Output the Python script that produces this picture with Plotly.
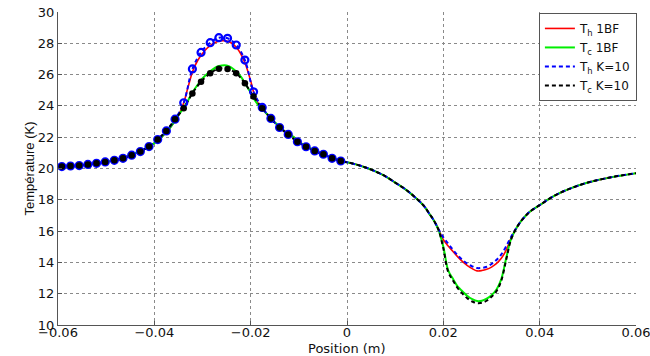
import plotly.graph_objects as go

# ---- Sample positions (m) ----
x_1bf = [-0.06, -0.055, -0.05, -0.045, -0.040, -0.037, -0.035, -0.034, -0.033, -0.032,
         -0.031, -0.030, -0.029, -0.028, -0.027, -0.026, -0.025, -0.024, -0.023, -0.022,
         -0.021, -0.020, -0.019, -0.018, -0.017, -0.015, -0.013, -0.011, -0.009, -0.007,
         -0.005, -0.003, -0.001, 0.0, 0.002, 0.004, 0.006, 0.008, 0.010, 0.012,
         0.014, 0.016, 0.017, 0.018, 0.019, 0.020, 0.021, 0.022, 0.023, 0.024,
         0.025, 0.026, 0.027, 0.028, 0.029, 0.030, 0.031, 0.032, 0.033, 0.034,
         0.035, 0.036, 0.037, 0.038, 0.040, 0.043, 0.046, 0.050, 0.055, 0.060]

th_1bf = [20.10, 20.20, 20.41, 20.84, 21.62, 22.50, 23.40, 24.10, 25.20, 26.25,
          26.90, 27.35, 27.70, 27.95, 28.10, 28.17, 28.15, 28.02, 27.75, 27.30,
          26.60, 25.60, 24.50, 23.95, 23.60, 22.95, 22.40, 22.00, 21.50, 21.20,
          20.90, 20.68, 20.45, 20.40, 20.25, 20.05, 19.80, 19.50, 19.10, 18.70,
          18.20, 17.60, 17.15, 16.70, 16.12, 15.45, 15.05, 14.70, 14.35, 14.05,
          13.80, 13.60, 13.46, 13.48, 13.56, 13.70, 13.92, 14.25, 14.75, 15.50,
          16.10, 16.58, 16.95, 17.25, 17.66, 18.25, 18.68, 19.10, 19.45, 19.70]

tc_1bf = [20.10, 20.20, 20.41, 20.84, 21.62, 22.50, 23.40, 23.85, 24.35, 24.90,
          25.35, 25.75, 26.05, 26.30, 26.50, 26.58, 26.58, 26.45, 26.20, 25.85,
          25.35, 24.85, 24.30, 23.90, 23.60, 22.95, 22.40, 22.00, 21.50, 21.20,
          20.90, 20.68, 20.45, 20.40, 20.25, 20.05, 19.80, 19.50, 19.10, 18.70,
          18.20, 17.60, 17.15, 16.70, 16.08, 15.00, 13.50, 12.95, 12.45, 12.15,
          11.85, 11.65, 11.53, 11.55, 11.68, 11.90, 12.25, 12.90, 14.20, 15.45,
          16.10, 16.58, 16.95, 17.25, 17.66, 18.25, 18.68, 19.10, 19.45, 19.70]

# K=10 solution: node positions on the heated half, then the cooled half
x_k10 = [-0.0592, -0.0574, -0.0556, -0.0538, -0.0520, -0.0502, -0.0483, -0.0465,
         -0.0447, -0.0429, -0.0411, -0.0393, -0.0375, -0.0357, -0.0339, -0.0321,
         -0.0303, -0.0284, -0.0266, -0.0248, -0.0230, -0.0212, -0.0194, -0.0176,
         -0.0158, -0.0140, -0.0122, -0.0103, -0.0085, -0.0067, -0.0049, -0.0031,
         -0.0013,
         0.0, 0.002, 0.004, 0.006, 0.008, 0.010, 0.012, 0.014, 0.016, 0.017, 0.018,
         0.019, 0.020, 0.021, 0.022, 0.023, 0.024, 0.025, 0.026, 0.027, 0.028,
         0.029, 0.030, 0.031, 0.032, 0.033, 0.034, 0.035, 0.036, 0.037, 0.038, 0.040,
         0.043, 0.046, 0.050, 0.055, 0.060]

th_k10 = [20.12, 20.16, 20.19, 20.26, 20.33, 20.42, 20.52, 20.65,
          20.85, 21.08, 21.40, 21.85, 22.40, 23.15, 24.20, 26.36,
          27.42, 28.04, 28.36, 28.32, 27.89, 26.93, 24.90, 23.90,
          23.20, 22.62, 22.18, 21.71, 21.39, 21.12, 20.91, 20.65,
          20.48,
          20.40, 20.25, 20.05, 19.80, 19.50, 19.10, 18.70, 18.20, 17.60, 17.15, 16.70,
          16.12, 15.60, 15.20, 14.80, 14.45, 14.15, 13.92, 13.75, 13.64, 13.65,
          13.72, 13.90, 14.15, 14.50, 15.00, 15.60, 16.12, 16.58, 16.95, 17.25, 17.66,
          18.25, 18.68, 19.10, 19.45, 19.70]

tc_k10 = [20.12, 20.16, 20.19, 20.26, 20.33, 20.42, 20.52, 20.65,
          20.85, 21.08, 21.40, 21.85, 22.40, 23.14, 23.85, 24.80,
          25.55, 26.08, 26.38, 26.36, 26.08, 25.44, 24.60, 23.85,
          23.20, 22.62, 22.18, 21.71, 21.39, 21.12, 20.91, 20.65,
          20.48,
          20.40, 20.25, 20.05, 19.80, 19.50, 19.10, 18.70, 18.20, 17.60, 17.15, 16.70,
          16.08, 14.90, 13.40, 12.85, 12.35, 12.00, 11.70, 11.50, 11.40, 11.42,
          11.55, 11.80, 12.15, 12.80, 14.10, 15.40, 16.10, 16.58, 16.95, 17.25, 17.66,
          18.25, 18.68, 19.10, 19.45, 19.70]

n_nodes = 33  # nodes marked on the heated half

x_ticks = [-0.06, -0.04, -0.02, 0, 0.02, 0.04, 0.06]
x_tick_text = ["\u22120.06", "\u22120.04", "\u22120.02", "0", "0.02", "0.04", "0.06"]
y_ticks = [10, 12, 14, 16, 18, 20, 22, 24, 26, 28, 30]

FONT = "DejaVu Sans, Liberation Sans, sans-serif"
FONT_V = "Liberation Sans, Arial, sans-serif"
INK = "#111111"

fig = go.Figure()

fig.add_trace(go.Scatter(x=x_1bf, y=th_1bf, mode="lines", name="T<sub>h</sub> 1BF",
                         line=dict(color="#ff0000", width=1.6), line_shape="spline"))
fig.add_trace(go.Scatter(x=x_1bf, y=tc_1bf, mode="lines", name="T<sub>c</sub> 1BF",
                         line=dict(color="#00ee00", width=2), line_shape="spline"))
fig.add_trace(go.Scatter(x=x_k10, y=th_k10, mode="lines", name="T<sub>h</sub> K=10",
                         line=dict(color="#0000ff", width=2, dash="4px,3px"),
                         line_shape="spline"))
fig.add_trace(go.Scatter(x=x_k10, y=tc_k10, mode="lines", name="T<sub>c</sub> K=10",
                         line=dict(color="#000000", width=2, dash="4px,3px"),
                         line_shape="spline"))
fig.add_trace(go.Scatter(x=x_k10[:n_nodes], y=th_k10[:n_nodes], mode="markers",
                         showlegend=False,
                         marker=dict(symbol="circle-open", size=7, color="#0000ff",
                                     line=dict(width=2.2, color="#0000ff"))))
fig.add_trace(go.Scatter(x=x_k10[:n_nodes], y=tc_k10[:n_nodes], mode="markers",
                         showlegend=False,
                         marker=dict(symbol="circle", size=6.5, color="#000000")))

axis_common = dict(
    showgrid=True, gridcolor="#8a8a8a", griddash="dot", gridwidth=1,
    showline=True, linecolor="#555555", linewidth=1,
    ticks="inside", ticklen=4, tickcolor="#555555",
    zeroline=False, automargin=False, ticklabeloverflow="allow",
    tickfont=dict(family=FONT, size=13, color=INK),
)

fig.update_xaxes(range=[-0.06, 0.06], tickvals=x_ticks, ticktext=x_tick_text,
                 ticklabelstandoff=-5, **axis_common)
fig.update_yaxes(range=[10, 30], tickvals=y_ticks,
                 title=dict(text="Température (K)", standoff=0,
                            font=dict(family=FONT_V, size=13, color=INK)),
                 **axis_common)

# x-axis title pinned to the bottom edge, below the tick labels
fig.add_annotation(text="Position (m)", xref="paper", yref="paper",
                   x=0.5, y=-31 / 313, xanchor="center", yanchor="bottom",
                   showarrow=False, borderpad=0, yshift=-1,
                   font=dict(family=FONT, size=13, color=INK))

fig.update_layout(
    width=650, height=356,
    margin=dict(l=58, r=14, t=12, b=31),
    plot_bgcolor="white", paper_bgcolor="white",
    font=dict(family=FONT, size=13, color=INK),
    legend=dict(x=0.832, y=0.997, xanchor="left", yanchor="top",
                bgcolor="white", bordercolor="#555555", borderwidth=1,
                font=dict(family=FONT, size=12, color=INK),
                tracegroupgap=0, itemwidth=30),
)

fig.write_html("out.html")
